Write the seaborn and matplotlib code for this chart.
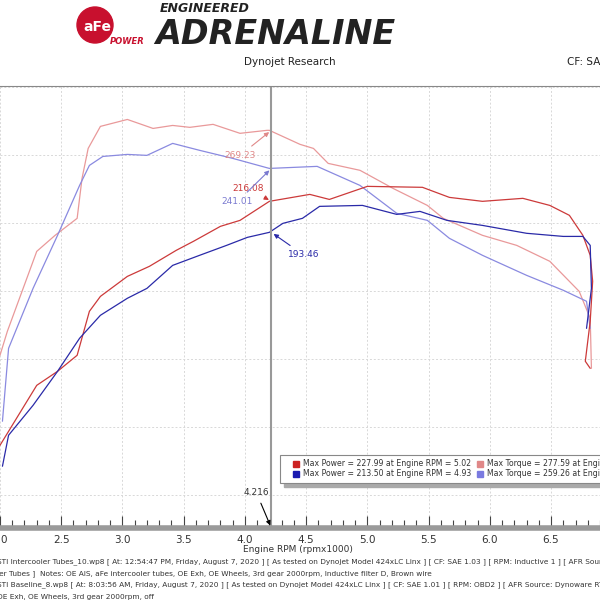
import matplotlib
matplotlib.use("Agg")
import matplotlib.pyplot as plt
import seaborn as sns
import pandas as pd
from matplotlib.patches import Rectangle, Circle

sns.set_style("white")
plt.rcParams['font.family'] = ['DejaVu Sans']

# Red run (intercooler tubes)
red_tq_rpm = [2.00,2.06,2.30,2.45,2.63,2.67,2.72,2.82,3.04,3.25,3.41,3.55,3.74,3.96,4.18,4.20,4.45,4.56,4.68,4.94,5.21,5.49,5.62,5.94,6.22,6.49,6.73,6.82,6.83]
red_tq = [103.0,120.6,179.4,191.2,203.7,233.1,255.1,271.3,276.4,269.8,272.0,270.6,272.8,266.2,268.4,268.4,258.1,255.1,244.1,239.0,225.7,213.2,203.7,191.2,183.8,172.1,150.0,130.2,93.4]
red_hp_rpm = [2.00,2.30,2.47,2.63,2.73,2.82,3.04,3.22,3.44,3.58,3.80,3.96,4.20,4.53,4.69,5.00,5.45,5.67,5.94,6.27,6.49,6.65,6.76,6.82,6.84,6.82,6.78,6.82]
red_hp = [36.8,80.9,91.2,103.0,135.3,146.3,161.0,168.4,180.2,186.8,197.8,202.2,216.2,221.3,217.6,227.2,226.5,219.1,216.2,218.4,213.2,205.9,191.2,176.5,157.4,128.0,98.6,93.4]
# Blue run (baseline)
blue_tq_rpm = [2.02,2.07,2.27,2.47,2.65,2.73,2.84,3.04,3.20,3.41,3.63,3.90,4.20,4.59,4.94,5.24,5.49,5.67,5.94,6.30,6.60,6.79,6.82]
blue_tq = [54.5,108.1,152.2,191.2,227.9,242.6,249.2,250.7,250.0,258.8,253.7,247.8,240.4,241.9,227.9,207.4,202.2,189.0,176.5,161.8,150.8,142.7,122.8]
blue_hp_rpm = [2.02,2.07,2.27,2.47,2.65,2.82,3.04,3.20,3.41,3.63,3.85,4.02,4.20,4.31,4.47,4.61,4.96,5.24,5.43,5.65,5.94,6.30,6.60,6.76,6.82,6.83,6.79]
blue_hp = [21.4,44.2,66.2,91.2,115.5,132.4,144.9,152.2,169.1,176.5,183.8,189.7,193.4,200.0,203.7,212.5,213.2,206.6,208.8,202.2,198.5,192.7,190.4,190.4,183.8,152.2,122.8]

cursor_rpm = 4.216
xticks = [2.0,2.5,3.0,3.5,4.0,4.5,5.0,5.5,6.0,6.5]

W = 600.0
fig = plt.figure(figsize=(6,6), dpi=100)
ax = fig.add_axes([0, 1-528/W, 1.0, (528-86)/W])

series = [
    (red_tq_rpm, red_tq, "#e9999a"),
    (blue_tq_rpm, blue_tq, "#8a8ae0"),
    (red_hp_rpm, red_hp, "#cc3a3a"),
    (blue_hp_rpm, blue_hp, "#2a2aa8"),
]
for xs, ys, c in series:
    df = pd.DataFrame({"rpm": xs, "v": ys})
    sns.lineplot(data=df, x="rpm", y="v", sort=False, estimator=None, color=c, lw=0.9, ax=ax)

ax.set_xlim(2.0, 6.9)
ax.set_ylim(-24, 301)
ax.set_xticks(xticks)
ax.set_xticklabels([f"{t:.1f}" for t in xticks], fontsize=7.5, color="#333333")
ax.set_xticks([2.0 + 0.1*i for i in range(50)], minor=True)
ax.set_yticks([0,50,100,150,200,250,300])
ax.set_yticklabels([])
ax.tick_params(axis="x", which="both", bottom=True, direction="in", length=9, color="#444444", width=0.8, pad=5)
ax.tick_params(axis="x", which="minor", bottom=True, length=6)
ax.tick_params(axis="y", length=0)
ax.grid(True, ls=(0,(2,2)), color="#d8d8d8", lw=0.7)
ax.set_xlabel(""); ax.set_ylabel("")
for s in ["left","right"]:
    ax.spines[s].set_visible(False)
ax.spines["top"].set_color("#888888")
ax.spines["bottom"].set_color("#9a9a9a"); ax.spines["bottom"].set_linewidth(4)

ax.axvline(cursor_rpm, color="#999999", lw=1.5)
ax.annotate("4.216", xy=(cursor_rpm, -24), xytext=(3.99, 0), fontsize=6.5, color="#333333",
            arrowprops=dict(arrowstyle="-|>", color="black", lw=0.8))
ann = [("269.23", 268.4, "#e08888", (3.83, 248), "-|>"),
       ("216.08", 216.2, "#cc3a3a", (3.90, 224), "-|>"),
       ("241.01", 240.4, "#7a7ad0", (3.81, 214), "-|>"),
       ("193.46", 193.4, "#2a2aa8", (4.35, 175), "-|>")]
for t, yv, c, xyt, st in ann:
    ax.annotate(t, xy=(cursor_rpm, yv), xytext=xyt, fontsize=6.5, color=c,
                arrowprops=dict(arrowstyle=st, color=c, lw=0.8))

# legend box
lx, ly, lw_, lh = 280, 455, 330, 28
fig.patches.append(Rectangle((lx/W+0.006, 1-(ly+lh+4)/W), lw_/W, lh/W, transform=fig.transFigure, color="#aaaaaa", zorder=5))
fig.patches.append(Rectangle((lx/W, 1-(ly+lh)/W), lw_/W, lh/W, transform=fig.transFigure, facecolor="white", edgecolor="#888888", lw=0.8, zorder=6))
items = [(293, 464, "#cc2222", "Max Power = 227.99 at Engine RPM = 5.02"),
         (293, 474, "#1a1ab0", "Max Power = 213.50 at Engine RPM = 4.93"),
         (477, 464, "#e08888", "Max Torque = 277.59 at Engine RPM"),
         (477, 474, "#7a7ae0", "Max Torque = 259.26 at Engine RPM")]
for x, y, c, t in items:
    fig.patches.append(Rectangle((x/W, 1-(y+3)/W), 6/W, 6/W, transform=fig.transFigure, color=c, zorder=7))
    fig.text((x+10)/W, 1-y/W, t, fontsize=5.6, color="#333333", va="center", zorder=8)

# header
fig.patches.append(Circle((95/W, 1-25/W), 18/W, transform=fig.transFigure, color="#c8102e", zorder=5))
fig.text(83/W, 1-27/W, "aFe", fontsize=10, fontweight="bold", color="white", va="center", zorder=6)
fig.text(110/W, 1-42/W, "POWER", fontsize=6, fontweight="bold", style="italic", color="#c8102e", va="center", zorder=6)
fig.text(160/W, 1-9/W, "ENGINEERED", fontsize=9, fontweight="bold", style="italic", color="#222222", va="center")
fig.text(155/W, 1-34/W, "ADRENALINE", fontsize=24, fontweight="heavy", style="italic", color="#222222", va="center")
fig.text(290/W, 1-62/W, "Dynojet Research", fontsize=7.5, color="#222222", ha="center", va="center")
fig.text(567/W, 1-62/W, "CF: SA", fontsize=7.5, color="#222222", va="center")
fig.text(243/W, 1-549/W, "Engine RPM (rpmx1000)", fontsize=6.5, color="#333333", va="center")

foot = ["STI Intercooler Tubes_10.wp8 [ At: 12:54:47 PM, Friday, August 7, 2020 ] [ As tested on Dynojet Model 424xLC Linx ] [ CF: SAE 1.03 ] [ RPM: Inductive 1 ] [ AFR Source: Dynoware",
        "ler Tubes ]  Notes: OE AIS, aFe intercooler tubes, OE Exh, OE Wheels, 3rd gear 2000rpm, Inductive filter D, Brown wire",
        "STI Baseline_8.wp8 [ At: 8:03:56 AM, Friday, August 7, 2020 ] [ As tested on Dynojet Model 424xLC Linx ] [ CF: SAE 1.01 ] [ RPM: OBD2 ] [ AFR Source: Dynoware RT WB ] [ Linx r",
        "OE Exh, OE Wheels, 3rd gear 2000rpm, off"]
for i, t in enumerate(foot):
    fig.text(-3/W, 1-(562+11.5*i)/W, t, fontsize=5.3, color="#333333", va="center")

fig.savefig("out.png", dpi=100)
